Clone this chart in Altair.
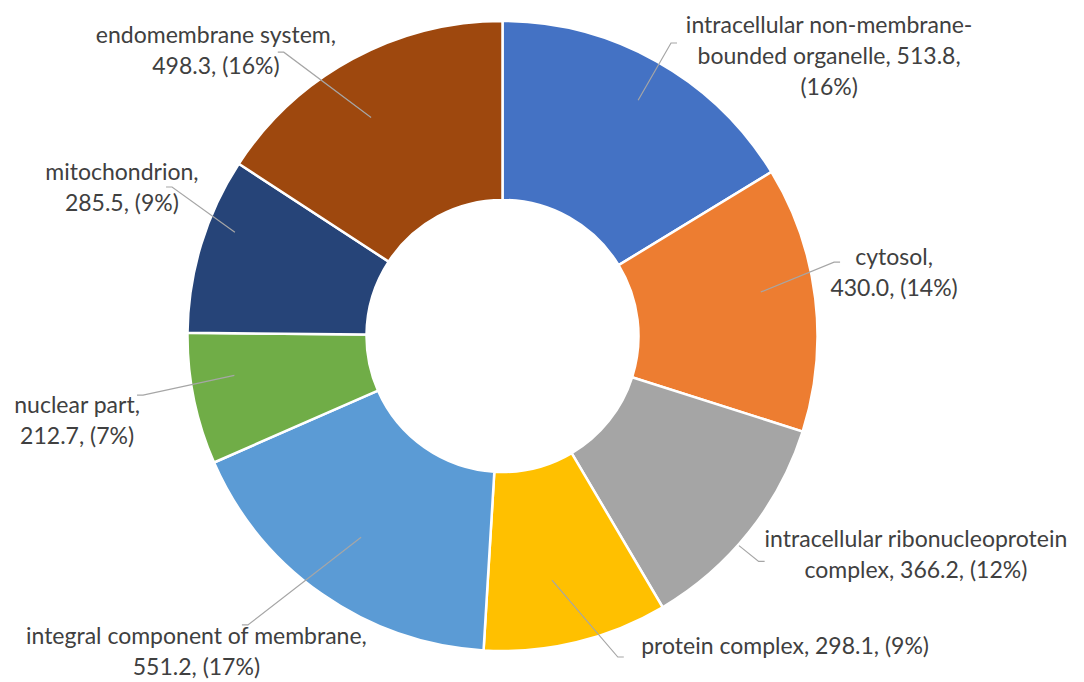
import altair as alt
import numpy as np
import pandas as pd

# ---- data ----
categories = [
    "intracellular non-membrane-bounded organelle",
    "cytosol",
    "intracellular ribonucleoprotein complex",
    "protein complex",
    "integral component of membrane",
    "nuclear part",
    "mitochondrion",
    "endomembrane system",
]
values = [513.8, 430.0, 366.2, 298.1, 551.2, 212.7, 285.5, 498.3]
colors = ["#4472C4", "#ED7D31", "#A5A5A5", "#FFC000",
          "#5B9BD5", "#70AD47", "#264478", "#9E480E"]

total = sum(values)
pcts = [round(v / total * 100) for v in values]
num = [f"{v:.1f}" for v in values]
label_texts = [
    f"intracellular non-membrane-\nbounded organelle, {num[0]},\n({pcts[0]}%)",
    f"cytosol,\n{num[1]}, ({pcts[1]}%)",
    f"intracellular ribonucleoprotein\ncomplex, {num[2]}, ({pcts[2]}%)",
    f"protein complex, {num[3]}, ({pcts[3]}%)",
    f"integral component of membrane,\n{num[4]}, ({pcts[4]}%)",
    f"nuclear part,\n{num[5]}, ({pcts[5]}%)",
    f"mitochondrion,\n{num[6]}, ({pcts[6]}%)",
    f"endomembrane system,\n{num[7]}, ({pcts[7]}%)",
]

# ---- layout (style) settings ----
W, H = 1005, 672
CX, CY = W / 2, H / 2
INNER, OUTER = 136, 315
FONT_SIZE, LINE_H = 23, 31
# label placement: (angle shift from slice mid-angle in degrees, radius px)
label_layout = [(20.2, 429.5), (-2.2, 396.5), (-10.6, 468.0), (-28.7, 420.2),
                (9.2, 440.0), (0.2, 433.9), (4.35, 408.3), (-16.75, 404.1)]
# leader start: (angle shift, radius)
leader_start_layout = [(0.6, 272), (-2.8, 262), (3.0, 316), (2.1, 249),
                       (0.2, 246), (3.2, 271), (4.3, 287), (-2.6, 255)]
leader_end_layout = [(0.6, 338), (-5.7, 339.7), (2.8, 341.2), (-6.2, 341.1),
                     (6.5, 385.1), (2.2, 364.3), (7.4, 362.5), (-9.2, 358.3)]
HOOK = 6

vals = np.array(values)
cum = np.cumsum(vals)
mid_deg = (cum - vals / 2) / total * 360.0


def polar(angle_deg, r):
    a = np.radians(angle_deg)
    return CX + r * np.sin(a), CY - r * np.cos(a)


df = pd.DataFrame({"category": categories, "value": values, "idx": range(len(values))})

lab_rows, line_rows = [], []
for i, c in enumerate(categories):
    lx, ly = polar(mid_deg[i] + label_layout[i][0], label_layout[i][1])
    n_lines = label_texts[i].count("\n") + 1
    ly_first = ly - (n_lines - 1) * LINE_H / 2
    lab_rows.append({"category": c, "x": lx, "y": ly_first, "text": label_texts[i]})
    sx, sy = polar(mid_deg[i] + leader_start_layout[i][0], leader_start_layout[i][1])
    ex, ey = polar(mid_deg[i] + leader_end_layout[i][0], leader_end_layout[i][1])
    hx = ex + (HOOK if lx > ex else -HOOK)
    for k, (px, py) in enumerate([(sx, sy), (ex, ey), (hx, ey)]):
        line_rows.append({"category": c, "pt": k, "x": px, "y": py})
labels = pd.DataFrame(lab_rows)
leaders = pd.DataFrame(line_rows)

arc = alt.Chart(df).mark_arc(
    innerRadius=INNER, outerRadius=OUTER, stroke="white", strokeWidth=2.5
).encode(
    theta=alt.Theta("value:Q", stack=True),
    color=alt.Color("category:N", scale=alt.Scale(domain=categories, range=colors), legend=None),
    order=alt.Order("idx:Q"),
)

lines = alt.Chart(leaders).mark_line(color="#A6A6A6", strokeWidth=1.2).encode(
    x=alt.X("x:Q", scale=None, axis=None),
    y=alt.Y("y:Q", scale=None, axis=None),
    detail="category:N",
    order="pt:Q",
)

text = alt.Chart(labels).mark_text(
    font="Lato", fontSize=FONT_SIZE, color="#404040", lineBreak="\n", lineHeight=LINE_H,
    align="center", baseline="middle"
).encode(
    x=alt.X("x:Q", scale=None, axis=None),
    y=alt.Y("y:Q", scale=None, axis=None),
    text="text:N",
)

chart = alt.layer(arc, lines, text).properties(
    width=W, height=H,
    padding={"left": 0, "top": 0, "right": 1084 - W, "bottom": 682 - H},
    autosize="none",
    background="white",
).configure_view(stroke=None)

chart.save("out.html", embed_options={"renderer": "svg", "actions": False})
